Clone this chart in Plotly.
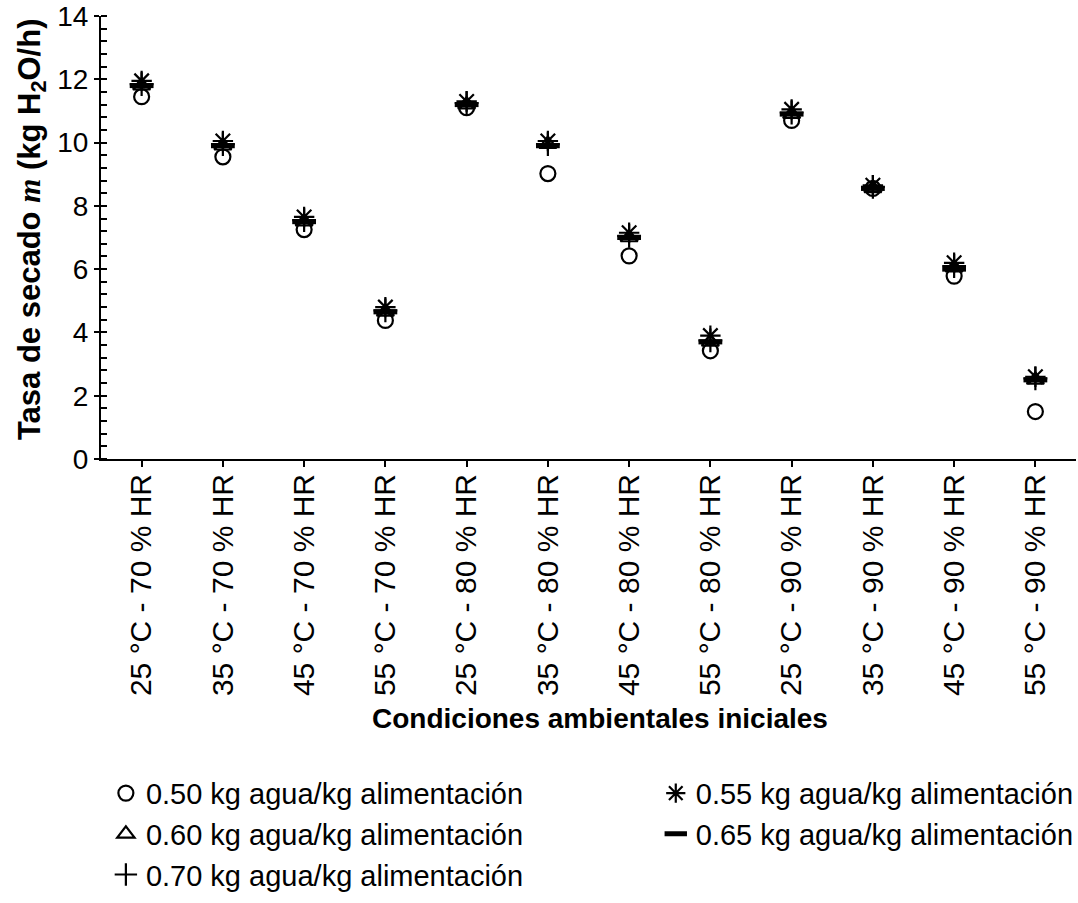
import plotly.graph_objects as go

categories = ["25 °C - 70 % HR", "35 °C - 70 % HR", "45 °C - 70 % HR", "55 °C - 70 % HR",
              "25 °C - 80 % HR", "35 °C - 80 % HR", "45 °C - 80 % HR", "55 °C - 80 % HR",
              "25 °C - 90 % HR", "35 °C - 90 % HR", "45 °C - 90 % HR", "55 °C - 90 % HR"]

s050 = [11.45, 9.55, 7.25, 4.38, 11.10, 9.02, 6.42, 3.42, 10.70, 8.55, 5.78, 1.50]
s055 = [11.95, 10.05, 7.65, 4.80, 11.30, 10.05, 7.15, 3.90, 11.05, 8.65, 6.20, 2.60]
s060 = [11.80, 9.90, 7.50, 4.65, 11.20, 9.95, 7.00, 3.70, 10.90, 8.55, 6.05, 2.50]
s065 = [11.80, 9.90, 7.50, 4.65, 11.20, 9.90, 7.00, 3.70, 10.90, 8.55, 6.00, 2.50]
s070 = [11.85, 9.95, 7.55, 4.70, 11.25, 9.95, 7.05, 3.75, 10.95, 8.60, 6.10, 2.55]

series_names = ["0.50 kg agua/kg alimentación", "0.55 kg agua/kg alimentación",
                "0.60 kg agua/kg alimentación", "0.65 kg agua/kg alimentación",
                "0.70 kg agua/kg alimentación"]

x_title = "<b>Condiciones ambientales iniciales</b>"
y_title = ("<b>Tasa de secado <span style=\"font-family:'Liberation Serif', 'Times New Roman', serif\">"
           "<i>m</i></span> (kg H<sub>2</sub>O/h)</b>")

FONT = "Liberation Sans, Arial, sans-serif"
fig = go.Figure()

styles = [
    dict(symbol="circle-open", size=15, line=dict(width=2.2, color="black")),
    dict(symbol="asterisk-open", size=17, line=dict(width=2.2, color="black")),
    dict(symbol="triangle-up-open", size=15, line=dict(width=2.2, color="black")),
    dict(symbol="line-ew-open", size=17, line=dict(width=5, color="black")),
    dict(symbol="cross-thin-open", size=17, line=dict(width=2.2, color="black")),
]
legends = ["legend", "legend2", "legend", "legend2", "legend"]
for name, vals, st, lg in zip(series_names, [s050, s055, s060, s065, s070], styles, legends):
    fig.add_trace(go.Scatter(x=categories, y=vals, mode="markers", name=name, legend=lg,
                             marker=dict(color="black", **st)))

leg_common = dict(orientation="v", yanchor="top", xanchor="left", font=dict(size=29),
                  itemwidth=30, bgcolor="rgba(0,0,0,0)", tracegroupgap=0)

fig.update_layout(
    width=1078, height=903,
    margin=dict(l=101, r=2, t=16, b=444, autoexpand=False),
    paper_bgcolor="white", plot_bgcolor="white",
    font=dict(family=FONT, size=28, color="black"),
    showlegend=True,
    legend=dict(x=0.005, y=-0.697, **leg_common),
    legend2=dict(x=0.569, y=-0.697, **leg_common),
    xaxis=dict(type="category", categoryorder="array", categoryarray=categories,
               range=[-0.5, 11.5], showline=True, linecolor="black", linewidth=2,
               ticks="outside", ticklen=6, tickwidth=2, tickcolor="black",
               tickangle=-90, showgrid=False, zeroline=False, automargin=False,
               tickfont=dict(size=30), ticklabelstandoff=-5),
    yaxis=dict(range=[0, 14], dtick=2, showline=True, linecolor="black", linewidth=2,
               ticks="outside", ticklen=5, tickwidth=2, tickcolor="black",
               showgrid=False, zeroline=False, tickfont=dict(size=28), automargin=False,
               minor=dict(ticks="inside", dtick=0.4, ticklen=6, tickwidth=1.5, tickcolor="black")),
    xaxis2=dict(overlaying="x", anchor="y", range=[-0.5, 11.5], tickvals=list(range(len(categories))),
                ticks="inside", ticklen=6, tickwidth=2, tickcolor="black", automargin=False,
                showticklabels=False, showgrid=False, zeroline=False, showline=False, side="bottom"),
    yaxis2=dict(overlaying="y", anchor="x", range=[0, 14], dtick=2, automargin=False,
                ticks="inside", ticklen=9, tickwidth=2, tickcolor="black",
                showticklabels=False, showgrid=False, zeroline=False, showline=False, side="left"),
    annotations=[
        dict(text=x_title, xref="paper", yref="paper", x=0.5118, y=-0.5847,
             xanchor="center", yanchor="middle", showarrow=False, font=dict(size=28)),
        dict(text=y_title, xref="paper", yref="paper", x=-0.0708, y=0.519,
             xanchor="center", yanchor="middle", showarrow=False, textangle=-90,
             font=dict(size=31)),
    ],
)

fig.write_html("out.html")
